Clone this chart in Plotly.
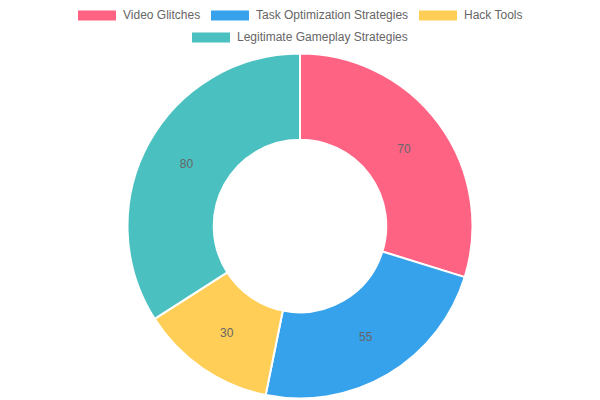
import plotly.graph_objects as go

categories = ["Video Glitches", "Task Optimization Strategies", "Hack Tools", "Legitimate Gameplay Strategies"]
values = [70, 55, 30, 80]
colors = ["#FF6384", "#36A2EB", "#FFCE56", "#4BC0C0"]

# page body adds an 8px offset; size the figure so it fills the window
OFF = 8
W, H = 600 - OFF, 400 - OFF

# target pie geometry in window pixels
cx, cy, r = 300 - OFF, 226 - OFF, 172.5

fig = go.Figure(go.Pie(
    labels=categories,
    values=values,
    hole=0.5,
    sort=False,
    direction="clockwise",
    rotation=0,
    marker=dict(colors=colors, line=dict(color="white", width=2)),
    textinfo="value",
    textposition="inside",
    insidetextorientation="horizontal",
    textfont=dict(color="#666666", size=12, family="Liberation Sans, Arial, sans-serif"),
    showlegend=False,
    hoverinfo="label+value",
    domain=dict(x=[(cx - r) / W, (cx + r) / W], y=[1 - (cy + r) / H, 1 - (cy - r) / H]),
))

# custom legend layout (window pixel positions of swatch left edge, row center y)
legend_layout = [(78, 15.5), (211, 15.5), (419, 15.5), (192, 37.5)]
shapes = []
annotations = []
for (sx, sy), name, col in zip(legend_layout, categories, colors):
    sx -= OFF
    sy -= OFF
    shapes.append(dict(type="rect", xref="paper", yref="paper",
                       x0=sx / W, x1=(sx + 38) / W,
                       y0=1 - (sy + 5) / H, y1=1 - (sy - 5) / H,
                       fillcolor=col, line=dict(width=0)))
    annotations.append(dict(text=name, xref="paper", yref="paper",
                            x=(sx + 43) / W, y=1 - sy / H,
                            xanchor="left", yanchor="middle", showarrow=False,
                            font=dict(color="#666666", size=12,
                                      family="Liberation Sans, Arial, sans-serif")))

fig.update_layout(
    width=W, height=H,
    margin=dict(l=0, r=0, t=0, b=0),
    paper_bgcolor="white",
    plot_bgcolor="white",
    shapes=shapes,
    annotations=annotations,
)

fig.write_html("out.html")
